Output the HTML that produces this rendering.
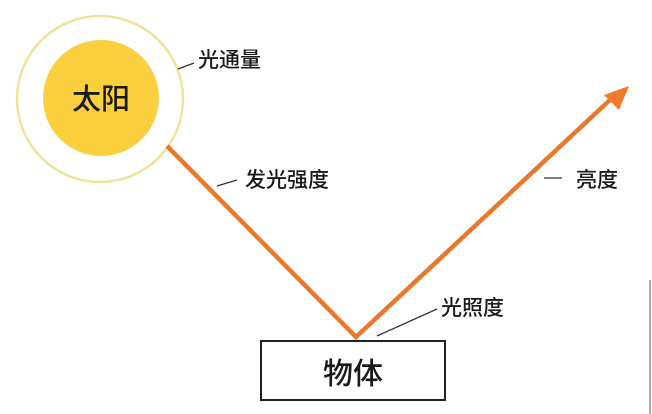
<!DOCTYPE html>
<html><head><meta charset="utf-8"><style>
html,body{margin:0;padding:0;background:#fff;}
svg{display:block;}
text{font-family:"Liberation Sans","Noto Sans CJK SC",sans-serif;fill:#1a1a1a;font-weight:500;}
</style></head><body>
<svg width="652" height="414" viewBox="0 0 652 414" xmlns="http://www.w3.org/2000/svg">
<rect width="652" height="414" fill="#fff"/>
<circle cx="100" cy="99" r="83" fill="#fff" stroke="#f1e29a" stroke-width="2.5"/>
<circle cx="101" cy="98" r="58" fill="#fbd03f"/>
<text x="101" y="109" font-size="29" text-anchor="middle">太阳</text>
<polyline points="167,146 356,337 612,98" fill="none" stroke="#e8782c" stroke-width="4.5" stroke-linejoin="miter"/>
<polygon points="629,86 619,110 604,95" fill="#ee7a2a"/>
<rect x="261" y="341" width="184" height="59" fill="#fff" stroke="#222" stroke-width="2"/>
<text x="353" y="384" font-size="30" text-anchor="middle">物体</text>
<line x1="178" y1="69" x2="194" y2="63" stroke="#333" stroke-width="1.3"/>
<text x="198" y="67" font-size="21">光通量</text>
<line x1="217" y1="186" x2="237" y2="180" stroke="#333" stroke-width="1.3"/>
<text x="245" y="187" font-size="21">发光强度</text>
<line x1="544" y1="178" x2="562" y2="178" stroke="#333" stroke-width="1.3"/>
<text x="576" y="187" font-size="21">亮度</text>
<line x1="377" y1="336" x2="437" y2="309" stroke="#333" stroke-width="1.3"/>
<text x="441" y="315" font-size="21">光照度</text>
<line x1="650" y1="280" x2="650" y2="414" stroke="#555" stroke-width="1"/>
</svg>
</body></html>
